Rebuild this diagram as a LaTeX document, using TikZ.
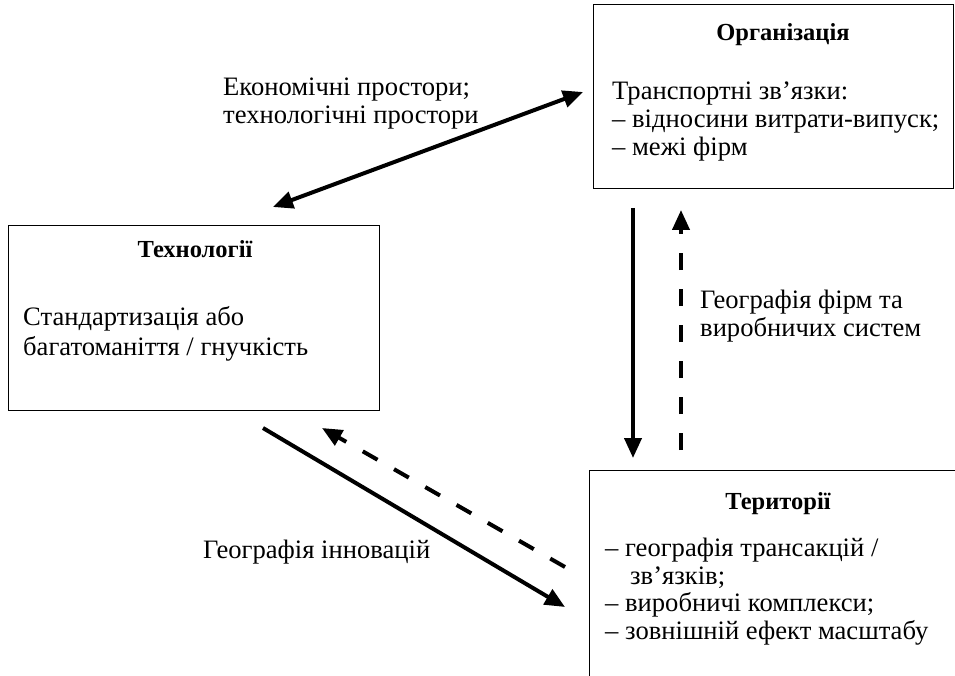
\documentclass[tikz,border=0pt]{standalone}
\usepackage{fontspec}
\setmainfont{Liberation Serif}
\usetikzlibrary{arrows.meta}
\tikzset{
  box/.style={draw=black, line width=1.2pt, inner sep=0pt, anchor=north west},
  txt/.style={anchor=base west, inner sep=0pt, font=\fontsize{26.6}{28}\selectfont},
  ttl/.style={anchor=base, inner sep=0pt, font=\fontsize{24.5}{28}\selectfont\bfseries},
  solidarrow/.style={line width=4pt, -{Triangle[length=20pt,width=17pt]}},
  biarrow/.style={line width=4pt, {Triangle[length=20pt,width=17pt]}-{Triangle[length=20pt,width=17pt]}},
  dasharrow/.style={line width=4pt, dash pattern=on 17pt off 19pt, -{Triangle[length=20pt,width=17pt]}}
}
\begin{document}
\begin{tikzpicture}[x=1pt,y=-1pt]
\useasboundingbox (0,0) rectangle (955,676);
% boxes
\node[box, minimum width=360pt, minimum height=184pt] (org) at (593,4) {};
\node[box, minimum width=371pt, minimum height=185pt] (tech) at (8,225) {};
\node[box, minimum width=380pt, minimum height=230pt] (ter) at (589,470) {};
% organization text
\node[ttl] (orgT) at (783,41) {Організація};
\node[txt] (org1) at (612,100) {Транспортні зв’язки:};
\node[txt] (org2) at (612,128) {– відносини витрати-випуск;};
\node[txt] (org3) at (612,156) {– межі фірм};
% technology text
\node[ttl] (techT) at (195,258) {Технології};
\node[txt] (tech1) at (23,325) {Стандартизація або};
\node[txt] (tech2) at (23,355) {багатоманіття / гнучкість};
% territory text
\node[ttl] (terT) at (778,509) {Території};
\node[txt] (ter1) at (605,556) {– географія трансакцій /};
\node[txt] (ter2) at (630,584) {зв’язків;};
\node[txt] (ter3) at (605,611) {– виробничі комплекси;};
\node[txt] (ter4) at (605,639) {– зовнішній ефект масштабу};
% labels
\node[txt] (lab1a) at (223,96) {Економічні простори;};
\node[txt] (lab1b) at (223,124) {технологічні простори};
\node[txt] (lab2a) at (700,308) {Географія фірм та};
\node[txt] (lab2b) at (700,336) {виробничих систем};
\node[txt] (lab3) at (203,558) {Географія інновацій};
% arrow end points
\coordinate (a1) at (273,207);
\coordinate (a2) at (583,92);
\coordinate (b1) at (633,208);
\coordinate (b2) at (633,458);
\coordinate (c1) at (681,450);
\coordinate (c2) at (681,210);
\coordinate (d1) at (263,428);
\coordinate (d2) at (565,607);
\coordinate (e1) at (565,567);
\coordinate (e2) at (322,428);
% arrows
\draw[biarrow] (a1) -- (a2);
\draw[solidarrow] (b1) -- (b2);
\draw[dasharrow] (c1) -- (c2);
\draw[solidarrow] (d1) -- (d2);
\draw[dasharrow] (e1) -- (e2);
\end{tikzpicture}
\end{document}
